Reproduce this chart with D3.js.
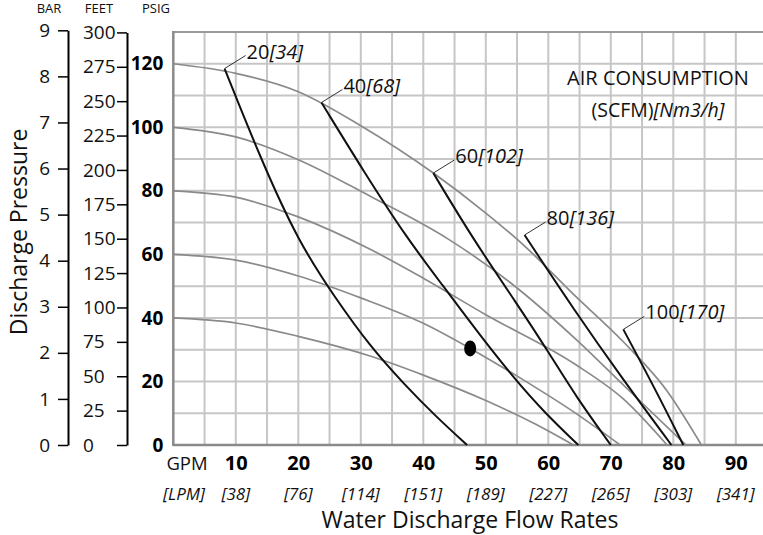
<!DOCTYPE html>
<html>
<head>
<meta charset="utf-8">
<script src="https://cdn.jsdelivr.net/npm/d3@7"></script>
<style>
body { margin: 0; background: #fff; }
svg { display: block; font-family: "Open Sans", sans-serif; }
.grid line { stroke: #c6c6c6; stroke-width: 2; }
.pump { fill: none; stroke: #8a8a8a; stroke-width: 1.7; }
.air { fill: none; stroke: #111; stroke-width: 2; }
</style>
</head>
<body>
<div id="chart"></div>
<script>
// pump curves: [GPM, PSIG] at each air inlet pressure
var pump120 = [[0,120],[10,117],[20,111.2],[30,100.5],[41.6,85.6],[50,73],[56,63],[64,47.5],[72,32.5],[79,17],[84.5,0]];
var pump100 = [[0,100],[10,97],[20,89.8],[31.5,78.3],[44,64.8],[54,51],[64.3,33.5],[73,17],[82,0]];
var pump80  = [[0,80],[10,78],[20,71.8],[31.5,61.6],[40,52.5],[50,41],[64.3,25.4],[72,14.5],[79,0]];
var pump60  = [[0,60],[10,58.2],[20,53.2],[30,46.3],[40,38.3],[47.5,30.4],[56,20.5],[64,10.5],[71.5,0]];
var pump40  = [[0,40],[10,38.4],[20,34.2],[31.5,28],[40,22],[50,14],[58,6.5],[64,0]];

// air consumption lines: SCFM [Nm3/h]
var airScfm = ["20", "40", "60", "80", "100"];
var airNm3 = ["34", "68", "102", "136", "170"];
var air20  = [[8.2,118.5],[14,90],[20,64],[26,46],[31.5,31],[37,19],[42,9],[47,0]];
var air40  = [[23.7,107.8],[30.5,86],[37.3,65.3],[43.2,50],[48.5,36],[54.5,21],[59.5,10],[64.8,0]];
var air60  = [[41.6,85.6],[48,64.7],[55,44.4],[59.8,30],[64.5,15],[70,0]];
var air80  = [[56.2,66.1],[64.3,42],[72,20.5],[79.7,0]];
var air100 = [[72,36.4],[77,18],[81.6,0]];

var operatingPoint = [47.5, 30.4];

var gpmTicks = [10, 20, 30, 40, 50, 60, 70, 80, 90];
var lpmLabels = ["38", "76", "114", "151", "189", "227", "265", "303", "341"];
var psiTicks = [0, 20, 40, 60, 80, 100, 120];
var barTicks = [0, 1, 2, 3, 4, 5, 6, 7, 8, 9];
var feetTicks = [0, 25, 50, 75, 100, 125, 150, 175, 200, 225, 250, 275, 300];

var width = 763, height = 535;

var svg = d3.select("#chart").append("svg")
	.attr("width", width)
	.attr("height", height);

var x = d3.scaleLinear().domain([0, 100]).range([173.3, 173.3 + 625]);
var y = d3.scaleLinear().domain([0, 130]).range([445, 32]);
var yBar = d3.scaleLinear().domain([0, 9]).range([y(0), y(9 * 14.5038)]);
var yFeet = d3.scaleLinear().domain([0, 300]).range([y(0), y(300 / 2.31)]);

svg.append("defs").append("clipPath").attr("id", "plotClip")
	.append("rect").attr("x", x(0)).attr("y", y(130) - 2).attr("width", width - x(0)).attr("height", y(0) - y(130) + 4);

// grid
var grid = svg.append("g").attr("class", "grid");
grid.selectAll(".vx")
	.data(d3.range(5, 100, 5))
	.enter().append("line")
	.attr("x1", function(d) { return x(d); })
	.attr("x2", function(d) { return x(d); })
	.attr("y1", y(130)).attr("y2", y(0));
grid.selectAll(".hy")
	.data(d3.range(10, 130, 10))
	.enter().append("line")
	.attr("x1", x(0)).attr("x2", width)
	.attr("y1", function(d) { return y(d); })
	.attr("y2", function(d) { return y(d); });

// plot frame
svg.append("line").attr("x1", x(0)).attr("x2", width).attr("y1", y(130)).attr("y2", y(130))
	.attr("stroke", "#9a9a9a").attr("stroke-width", 2);
svg.append("line").attr("x1", x(0)).attr("x2", x(0)).attr("y1", y(130) - 1).attr("y2", y(0) + 1)
	.attr("stroke", "#8a8a8a").attr("stroke-width", 2.5);
svg.append("line").attr("x1", x(0)).attr("x2", width).attr("y1", y(0)).attr("y2", y(0))
	.attr("stroke", "#8a8a8a").attr("stroke-width", 2.5);

var pumpLine = d3.line()
	.x(function(d) { return x(d[0]); })
	.y(function(d) { return y(d[1]); })
	.curve(d3.curveMonotoneX);

var airLine = d3.line()
	.x(function(d) { return x(d[0]); })
	.y(function(d) { return y(d[1]); })
	.curve(d3.curveBasis);

var plot = svg.append("g").attr("clip-path", "url(#plotClip)");

plot.selectAll(".pump")
	.data([pump120, pump100, pump80, pump60, pump40])
	.enter().append("path")
	.attr("class", "pump")
	.attr("d", pumpLine);

var airLines = [air20, air40, air60, air80, air100];
plot.selectAll(".air")
	.data(airLines)
	.enter().append("path")
	.attr("class", "air")
	.attr("d", airLine);

// leaders and labels for air lines
airLines.forEach(function(a, i) {
	var sx = x(a[0][0]), sy = y(a[0][1]);
	svg.append("line")
		.attr("x1", sx).attr("y1", sy)
		.attr("x2", sx + 21).attr("y2", sy - 13)
		.attr("stroke", "#333").attr("stroke-width", 1);
	var t = svg.append("text")
		.attr("x", sx + 22).attr("y", sy - 10)
		.attr("font-size", 20).attr("fill", "#111");
	t.append("tspan").text(airScfm[i]);
	t.append("tspan").attr("font-style", "italic").text("[" + airNm3[i] + "]");
});

// operating point
svg.append("ellipse")
	.attr("cx", x(operatingPoint[0])).attr("cy", y(operatingPoint[1]))
	.attr("rx", 6).attr("ry", 8)
	.attr("fill", "#000");

// AIR CONSUMPTION legend
svg.append("text").attr("x", 658).attr("y", 85).attr("text-anchor", "middle")
	.attr("font-size", 20).attr("fill", "#111").text("AIR CONSUMPTION");
var sub = svg.append("text").attr("x", 658).attr("y", 117).attr("text-anchor", "middle")
	.attr("font-size", 19.5).attr("fill", "#111");
sub.append("tspan").text("(SCFM)");
sub.append("tspan").attr("font-style", "italic").text("[Nm3/h]");

// PSIG axis (bold labels, no ticks)
var psiAxis = svg.append("g")
	.attr("transform", "translate(" + x(0) + ",0)")
	.call(d3.axisLeft(y).tickValues(psiTicks).tickSize(0).tickPadding(10));
psiAxis.select(".domain").remove();
psiAxis.selectAll("text").attr("font-size", 19).attr("font-weight", "bold").attr("fill", "#000")
	.attr("font-family", "Open Sans, sans-serif");

// FEET axis
var feetAxis = svg.append("g")
	.attr("transform", "translate(127,0)")
	.call(d3.axisLeft(yFeet).tickValues(feetTicks).tickSize(10).tickSizeOuter(0));
feetAxis.select(".domain").attr("stroke", "#000").attr("stroke-width", 2);
feetAxis.selectAll(".tick line").attr("stroke", "#000").attr("stroke-width", 1.5);
feetAxis.selectAll("text")
	.attr("text-anchor", "start").attr("x", -44)
	.attr("font-size", 19).attr("fill", "#111")
	.attr("font-family", "Open Sans, sans-serif");

// BAR axis
var barAxis = svg.append("g")
	.attr("transform", "translate(68,0)")
	.call(d3.axisLeft(yBar).tickValues(barTicks).tickSize(10).tickSizeOuter(0).tickPadding(8));
barAxis.select(".domain").attr("stroke", "#000").attr("stroke-width", 2);
barAxis.selectAll(".tick line").attr("stroke", "#000").attr("stroke-width", 1.5);
barAxis.selectAll("text").attr("font-size", 19).attr("fill", "#111")
	.attr("font-family", "Open Sans, sans-serif");

// unit headers
[["BAR", 49], ["FEET", 99], ["PSIG", 156]].forEach(function(h) {
	svg.append("text").attr("x", h[1]).attr("y", 13).attr("text-anchor", "middle")
		.attr("font-size", 13).attr("fill", "#111").text(h[0]);
});

// GPM axis
var gpmAxis = svg.append("g")
	.attr("transform", "translate(0," + y(0) + ")")
	.call(d3.axisBottom(x).tickValues(gpmTicks).tickSize(0).tickFormat(d3.format("d")));
gpmAxis.select(".domain").remove();
gpmAxis.selectAll("text").attr("y", 25).attr("dy", 0)
	.attr("font-size", 20).attr("font-weight", "bold").attr("fill", "#000")
	.attr("font-family", "Open Sans, sans-serif");

svg.append("text").attr("x", 187).attr("y", 470).attr("text-anchor", "middle")
	.attr("font-size", 18.5).attr("fill", "#111").text("GPM");

svg.selectAll(".lpm")
	.data(lpmLabels)
	.enter().append("text")
	.attr("x", function(d, i) { return x(gpmTicks[i]); })
	.attr("y", 500)
	.attr("text-anchor", "middle")
	.attr("font-size", 17).attr("font-style", "italic").attr("fill", "#111")
	.text(function(d) { return "[" + d + "]"; });
svg.append("text").attr("x", 184).attr("y", 500).attr("text-anchor", "middle")
	.attr("font-size", 17).attr("font-style", "italic").attr("fill", "#111").text("[LPM]");

// axis titles
svg.append("text").attr("x", 470).attr("y", 528).attr("text-anchor", "middle")
	.attr("font-size", 23).attr("fill", "#111").text("Water Discharge Flow Rates");
svg.append("text")
	.attr("transform", "translate(27,232) rotate(-90)")
	.attr("text-anchor", "middle")
	.attr("font-size", 23).attr("fill", "#111").text("Discharge Pressure");
</script>
</body>
</html>
